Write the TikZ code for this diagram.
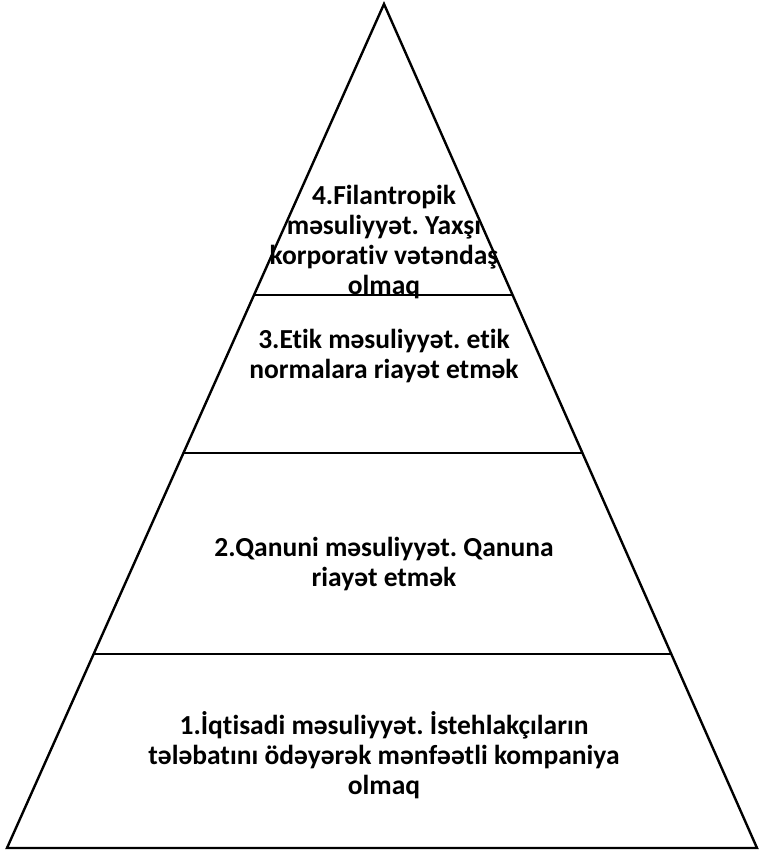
\documentclass[tikz,border=0pt]{standalone}
\usepackage{fontspec}
\setmainfont[Ligatures=NoCommon]{Carlito}
\usetikzlibrary{calc}
\tikzset{
  edge/.style={line width=2.4pt, line join=miter},
  tier/.style={line width=2.6pt},
  label/.style={align=center, inner sep=0pt,
    font=\fontsize{27.5}{30}\selectfont\bfseries\frenchspacing}
}
\begin{document}
\begin{tikzpicture}[x=1pt, y=-1pt]
  \useasboundingbox (0,0) rectangle (758,850);
  % pyramid outline
  \coordinate (apex) at (384,4);
  \coordinate (bl) at (7,848);
  \coordinate (br) at (757,848);
  \draw[edge] (apex) -- (bl) -- (br) -- cycle;
  % tier boundaries
  \foreach \name/\yy in {t4/295, t3/453, t2/654} {
    \coordinate (\name l) at ($(apex)!{(\yy-4)/844}!(bl)$);
    \coordinate (\name r) at ($(apex)!{(\yy-4)/844}!(br)$);
    \draw[tier] (\name l) -- (\name r);
  }
  % tier captions
  \node[label] (n4) at (384,242) {4.Filantropik\\məsuliyyət. Yaxşı\\korporativ vətəndaş\\olmaq};
  \node[label] (n3) at (384,356) {3.Etik məsuliyyət. etik\\normalara riayət etmək};
  \node[label] (n2) at (384,564) {2.Qanuni məsuliyyət. Qanuna\\riayət etmək};
  \node[label] (n1) at (384,755) {1.İqtisadi məsuliyyət. İstehlakçıların\\tələbatını ödəyərək mənfəətli kompaniya\\olmaq};
\end{tikzpicture}
\end{document}
